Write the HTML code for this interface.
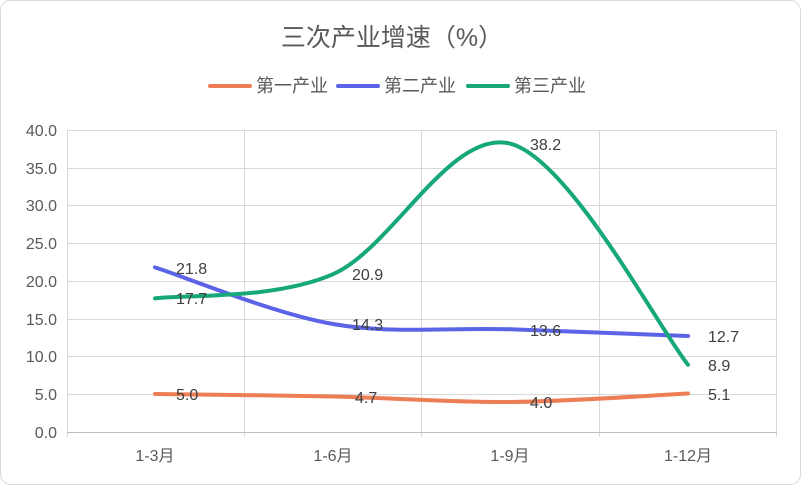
<!DOCTYPE html>
<html><head><meta charset="utf-8"><style>
html,body{margin:0;padding:0;background:#fff;}
svg text{font-family:"Liberation Sans","Noto Sans CJK SC",sans-serif;}
</style></head><body>
<svg width="801" height="485" viewBox="0 0 801 485" xmlns="http://www.w3.org/2000/svg">
<rect x="0.5" y="0.5" width="800" height="484" rx="10" fill="#fff" stroke="#d9d9d9"/>
<text x="392" y="46" text-anchor="middle" font-size="25" fill="#595959">三次产业增速（%）</text>
<g font-size="18" fill="#595959">
<line x1="210" y1="86" x2="250" y2="86" stroke="#ED7D55" stroke-width="4" stroke-linecap="round"/>
<text x="256" y="92">第一产业</text>
<line x1="338" y1="86" x2="378" y2="86" stroke="#5B63E6" stroke-width="4" stroke-linecap="round"/>
<text x="384" y="92">第二产业</text>
<line x1="468" y1="86" x2="508" y2="86" stroke="#16A77A" stroke-width="4" stroke-linecap="round"/>
<text x="514" y="92">第三产业</text>
</g>
<g stroke="#d9d9d9" stroke-width="1">
<line x1="67" y1="130.5" x2="777" y2="130.5"/><line x1="67" y1="168.5" x2="777" y2="168.5"/>
<line x1="67" y1="205.5" x2="777" y2="205.5"/><line x1="67" y1="243.5" x2="777" y2="243.5"/>
<line x1="67" y1="281.5" x2="777" y2="281.5"/><line x1="67" y1="319.5" x2="777" y2="319.5"/>
<line x1="67" y1="356.5" x2="777" y2="356.5"/><line x1="67" y1="394.5" x2="777" y2="394.5"/>
<line x1="67.5" y1="130" x2="67.5" y2="437"/><line x1="244.5" y1="130" x2="244.5" y2="437"/>
<line x1="421.5" y1="130" x2="421.5" y2="437"/><line x1="599.5" y1="130" x2="599.5" y2="437"/>
<line x1="776.5" y1="130" x2="776.5" y2="437"/>
</g>
<line x1="67" y1="432.5" x2="777" y2="432.5" stroke="#bfbfbf"/>
<g font-size="16" fill="#595959" text-anchor="end">
<text x="57" y="136">40.0</text><text x="57" y="174">35.0</text><text x="57" y="211">30.0</text>
<text x="57" y="249">25.0</text><text x="57" y="287">20.0</text><text x="57" y="325">15.0</text>
<text x="57" y="362">10.0</text><text x="57" y="400">5.0</text><text x="57" y="438">0.0</text>
</g>
<g font-size="16" fill="#595959" text-anchor="middle">
<text x="155" y="461">1-3月</text><text x="333" y="461">1-6月</text>
<text x="510" y="461">1-9月</text><text x="688" y="461">1-12月</text>
</g>
<g fill="none" stroke-width="4" stroke-linecap="round">
<path d="M155,394 C184.7,394.4 273.8,395.2 333,396.5 C392.2,397.8 450.8,402.5 510,402 C569.2,401.5 658.5,394.9 688,393.5" stroke="#ED7D55"/>
<path d="M155,267.4 C184.7,276.8 273.8,313.7 333,324 C392.2,334.3 450.8,327.3 510,329.3 C569.2,331.3 658.5,334.9 688,336" stroke="#5B63E6"/>
<path d="M155,298.4 C184.7,294.4 273.8,300 333,274.2 C392.2,248.4 450.8,128.5 510,143.6 C569.2,158.7 658.5,327.9 688,364.8" stroke="#16A77A"/>
</g>
<g font-size="16" fill="#404040">
<text x="176" y="400">5.0</text><text x="355" y="403">4.7</text><text x="530" y="408">4.0</text><text x="708" y="400">5.1</text>
<text x="176" y="274">21.8</text><text x="352" y="330">14.3</text><text x="530" y="336">13.6</text><text x="708" y="342">12.7</text>
<text x="176" y="304">17.7</text><text x="352" y="280">20.9</text><text x="530" y="150">38.2</text><text x="708" y="371">8.9</text>
</g>
</svg>
</body></html>
